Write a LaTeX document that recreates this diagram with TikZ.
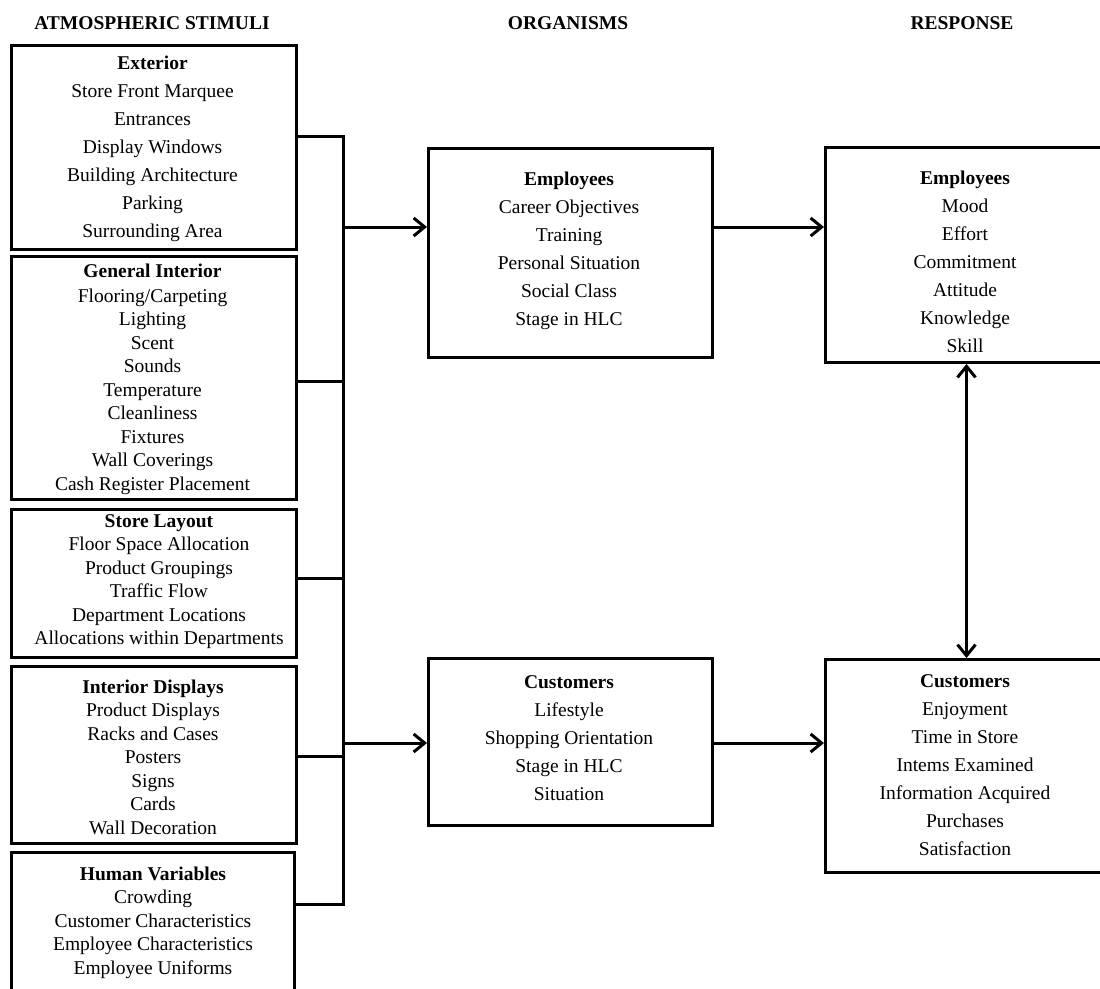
\documentclass[tikz,border=0pt]{standalone}
\usepackage{fontspec}
\setmainfont{Liberation Serif}
\usetikzlibrary{arrows.meta}
\tikzset{
  box/.style={draw, line width=3pt, inner sep=0pt, anchor=north west},
  dense/.style={align=center, inner sep=0pt, anchor=north, font=\fontsize{19.5}{23.5}\selectfont},
  loose/.style={align=center, inner sep=0pt, anchor=north, font=\fontsize{19.5}{28}\selectfont},
  head/.style={inner sep=0pt, font=\fontsize{19.5}{23.5}\selectfont\bfseries},
  wire/.style={line width=3pt},
  arr/.style={line width=3pt, -{Straight Barb[length=11pt,width=18pt,line width=3pt]}},
  darr/.style={line width=3pt, {Straight Barb[length=11pt,width=18pt,line width=3pt]}-{Straight Barb[length=11pt,width=18pt,line width=3pt]}}
}
\begin{document}
\begin{tikzpicture}[x=1pt,y=-1pt]
\useasboundingbox[fill=white] (0,0) rectangle (1100,988);

% headers
\node[head] (h1) at (152,23) {ATMOSPHERIC STIMULI};
\node[head] (h2) at (568,23) {ORGANISMS};
\node[head] (h3) at (962,23) {RESPONSE};

% left boxes
\node[box, minimum width=285pt, minimum height=204pt] (ext) at (10,44) {};
\node[box, minimum width=285pt, minimum height=243pt] (gi) at (10,255) {};
\node[box, minimum width=285pt, minimum height=148pt] (sl) at (10,508) {};
\node[box, minimum width=285pt, minimum height=177pt] (id) at (10,665) {};
\node[box, minimum width=283pt, minimum height=170pt] (hv) at (10,851) {};

\node[loose] (extT) at (152.5,55.3) {\textbf{Exterior}\\Store Front Marquee\\Entrances\\Display Windows\\Building Architecture\\Parking\\Surrounding Area};
\node[dense] (giT) at (152.5,263.3) {\textbf{General Interior}\\[1.5pt]Flooring/Carpeting\\Lighting\\Scent\\Sounds\\Temperature\\Cleanliness\\Fixtures\\Wall Coverings\\Cash Register Placement};
\node[dense] (slT) at (159,514.3) {\textbf{Store Layout}\\Floor Space Allocation\\Product Groupings\\Traffic Flow\\Department Locations\\Allocations within Departments};
\node[dense] (idT) at (153,679.3) {\textbf{Interior Displays}\\Product Displays\\Racks and Cases\\Posters\\Signs\\Cards\\Wall Decoration};
\node[dense] (hvT) at (153,866.3) {\textbf{Human Variables}\\Crowding\\Customer Characteristics\\Employee Characteristics\\Employee Uniforms};

% organism boxes
\node[box, minimum width=284pt, minimum height=209pt] (oe) at (427,147) {};
\node[box, minimum width=284pt, minimum height=167pt] (oc) at (427,657) {};
\node[loose] (oeT) at (569,171.3) {\textbf{Employees}\\Career Objectives\\Training\\Personal Situation\\Social Class\\Stage in HLC};
\node[loose] (ocT) at (569,675.3) {\textbf{Customers}\\Lifestyle\\Shopping Orientation\\Stage in HLC\\Situation};

% response boxes
\node[box, minimum width=282pt, minimum height=215pt] (re) at (824,146) {};
\node[box, minimum width=282pt, minimum height=213pt] (rc) at (824,658) {};
\node[loose] (reT) at (965,170.3) {\textbf{Employees}\\Mood\\Effort\\Commitment\\Attitude\\Knowledge\\Skill};
\node[loose] (rcT) at (965,674.3) {\textbf{Customers}\\Enjoyment\\Time in Store\\Intems Examined\\Information Acquired\\Purchases\\Satisfaction};

% bus
\coordinate (b1) at (343,136);
\coordinate (b2) at (343,381);
\coordinate (b3) at (343,578);
\coordinate (b4) at (343,756);
\coordinate (b5) at (343,904);
\coordinate (a1) at (343,227);
\coordinate (a2) at (343,743);

\draw[wire] (b1 -| ext.east) -- (b1) -- (b5) -- (b5 -| hv.east);
\draw[wire] (b2 -| gi.east) -- (b2);
\draw[wire] (b3 -| sl.east) -- (b3);
\draw[wire] (b4 -| id.east) -- (b4);

\draw[arr] (a1) -- (a1 -| oe.west);
\draw[arr] (a2) -- (a2 -| oc.west);
\draw[arr] (a1 -| oe.east) -- (a1 -| re.west);
\draw[arr] (a2 -| oc.east) -- (a2 -| rc.west);
\draw[darr] (re.south) -- (rc.north);
\end{tikzpicture}
\end{document}
